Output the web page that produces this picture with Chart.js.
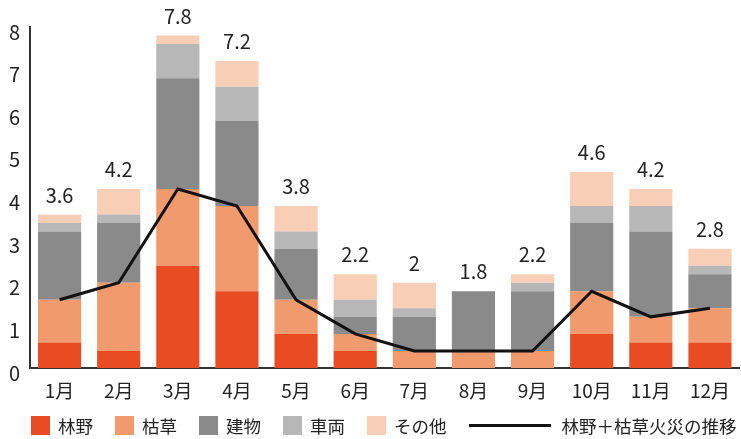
<!DOCTYPE html>
<html>
<head>
<meta charset="utf-8">
<script src="https://cdn.jsdelivr.net/npm/chart.js@4/dist/chart.umd.min.js"></script>
<style>
  html, body { margin: 0; padding: 0; background: #fff; }
  #wrap { position: relative; width: 741px; height: 439px; overflow: hidden; }
  #legend {
    position: absolute; left: 31px; top: 415px; height: 20px; width: 740px;
    display: flex; align-items: center; white-space: nowrap;
    font-family: "Noto Sans CJK JP", "Noto Sans", sans-serif; font-size: 17.5px; color: #222;
  }
  #legend .item { display: flex; align-items: center; flex-shrink: 0; margin-right: 22px; }
  #legend .box { width: 19px; height: 19px; margin-right: 8px; flex-shrink: 0; }
  #legend .line { width: 82px; height: 3px; background: #111; margin-right: 11px; flex-shrink: 0; }
</style>
</head>
<body>
<div id="wrap">
  <canvas id="fireChart" width="741" height="439"></canvas>
  <div id="legend"></div>
</div>
<script>
// months
const months = ['1月', '2月', '3月', '4月', '5月', '6月', '7月', '8月', '9月', '10月', '11月', '12月'];

// stacked series (件数)
const rinya  = [0.6, 0.4, 2.4, 1.8, 0.8, 0.4, 0, 0, 0, 0.8, 0.6, 0.6];
const kareku = [1.0, 1.6, 1.8, 2.0, 0.8, 0.4, 0.4, 0.4, 0.4, 1.0, 0.6, 0.8];
const tatemo = [1.6, 1.4, 2.6, 2.0, 1.2, 0.4, 0.8, 1.4, 1.4, 1.6, 2.0, 0.8];
const sharyo = [0.2, 0.2, 0.8, 0.8, 0.4, 0.4, 0.2, 0, 0.2, 0.4, 0.6, 0.2];
const sonota = [0.2, 0.6, 0.2, 0.6, 0.6, 0.6, 0.6, 0, 0.2, 0.8, 0.4, 0.4];

// line: 林野+枯草
const rinyaKareku = [1.6, 2.0, 4.2, 3.8, 1.6, 0.8, 0.4, 0.4, 0.4, 1.8, 1.2, 1.4];

// total labels above bars
const totalLabels = ['3.6', '4.2', '7.8', '7.2', '3.8', '2.2', '2', '1.8', '2.2', '4.6', '4.2', '2.8'];

const yTicks = [0, 1, 2, 3, 4, 5, 6, 7, 8];

const FONT = '"Noto Sans CJK JP", "Noto Sans", sans-serif';

const barSets = [
    { label: '林野', data: rinya,  color: '#E94B23' },
    { label: '枯草', data: kareku, color: '#F19A6E' },
    { label: '建物', data: tatemo, color: '#8A8A8A' },
    { label: '車両', data: sharyo, color: '#B6B7B6' },
    { label: 'その他', data: sonota, color: '#F8CEB6' }
];
const lineLabel = '林野＋枯草火災の推移';

// totals drawn above each stack
const totalsPlugin = {
    id: 'totals',
    afterDatasetsDraw(chart) {
        const ctx = chart.ctx;
        const y = chart.scales.y;
        const meta = chart.getDatasetMeta(1);
        ctx.save();
        ctx.font = '20px ' + FONT;
        ctx.fillStyle = '#222';
        ctx.textAlign = 'center';
        ctx.textBaseline = 'alphabetic';
        months.forEach((m, i) => {
            let sum = 0;
            barSets.forEach(s => sum += s.data[i]);
            const x = meta.data[i].x;
            ctx.fillText(totalLabels[i], x, y.getPixelForValue(sum) - 12);
        });
        ctx.restore();
    }
};

const datasets = [{
    type: 'line',
    label: lineLabel,
    data: rinyaKareku,
    borderColor: '#111',
    borderWidth: 3,
    pointRadius: 0,
    tension: 0,
    fill: false,
    order: 0
}];
barSets.forEach(s => {
    datasets.push({
        type: 'bar',
        label: s.label,
        data: s.data,
        backgroundColor: s.color,
        borderWidth: 0,
        barPercentage: 0.73,
        categoryPercentage: 1,
        stack: 'all',
        order: 1
    });
});

new Chart(document.getElementById('fireChart'), {
    data: { labels: months, datasets: datasets },
    options: {
        responsive: false,
        animation: false,
        layout: { padding: { top: 27, right: 0, left: 0, bottom: 0 } },
        plugins: {
            legend: { display: false },
            tooltip: { enabled: false }
        },
        scales: {
            x: {
                stacked: true,
                grid: { display: false, drawTicks: false },
                border: { display: true, color: '#333', width: 2 },
                ticks: {
                    color: '#222',
                    font: { family: FONT, size: 19 },
                    padding: 11
                },
                afterFit(scale) { scale.height = 71; }
            },
            y: {
                stacked: true,
                min: 0,
                max: 8,
                afterBuildTicks(scale) { scale.ticks = yTicks.map(v => ({ value: v })); },
                grid: { display: false, drawTicks: false },
                border: { display: true, color: '#333', width: 2 },
                ticks: {
                    color: '#222',
                    font: { family: FONT, size: 20 },
                    padding: 10,
                    labelOffset: 5
                },
                afterFit(scale) { scale.width = 30; }
            }
        }
    },
    plugins: [totalsPlugin]
});

// html legend
const legendEl = document.getElementById('legend');
barSets.forEach(s => {
    const item = document.createElement('div');
    item.className = 'item';
    item.innerHTML = '<span class="box" style="background:' + s.color + '"></span><span>' + s.label + '</span>';
    legendEl.appendChild(item);
});
const lineItem = document.createElement('div');
lineItem.className = 'item';
lineItem.innerHTML = '<span class="line"></span><span>' + lineLabel + '</span>';
legendEl.appendChild(lineItem);
</script>
</body>
</html>
